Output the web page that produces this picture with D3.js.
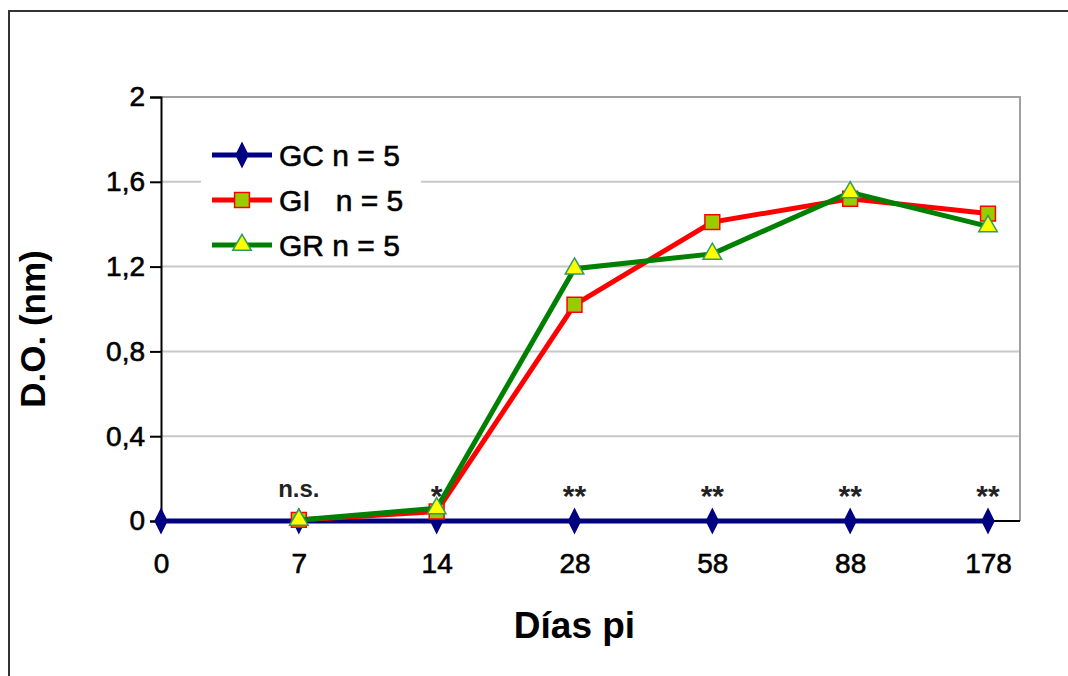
<!DOCTYPE html>
<html>
<head>
<meta charset="utf-8">
<script src="https://cdn.jsdelivr.net/npm/d3@7"></script>
<style>
  body { margin: 0; background: #fff; }
  text { font-family: "Liberation Sans", Arial, sans-serif; }
</style>
</head>
<body>
<div id="chart-area"></div>
<script>
var days = ['0', '7', '14', '28', '58', '88', '178'];
var gcValues = [0, 0, 0, 0, 0, 0, 0];
var giValues = [null, 0.005, 0.045, 1.02, 1.41, 1.52, 1.45];
var grValues = [null, 0.005, 0.06, 1.19, 1.26, 1.55, 1.39];
var signif = ['', 'n.s.', '*', '**', '**', '**', '**'];
var yTicks = [0, 0.4, 0.8, 1.2, 1.6, 2];
var legendLabels = ['GC n = 5', 'GI   n = 5', 'GR n = 5'];

var margin = { left: 161, right: 48, top: 97, bottom: 155 };
var W = 1068, H = 676;
var width = W - margin.left - margin.right;
var height = H - margin.top - margin.bottom;

var svg = d3.select('#chart-area')
    .append('svg')
    .attr('width', W)
    .attr('height', H);

// outer frame
svg.append('rect')
    .attr('x', 9).attr('y', 11)
    .attr('width', W + 10).attr('height', H + 10)
    .attr('fill', 'none')
    .attr('stroke', '#333')
    .attr('stroke-width', 2);

var g = svg.append('g')
    .attr('transform', 'translate(' + margin.left + ', ' + margin.top + ')');

var x = d3.scalePoint()
    .domain(days)
    .range([0, width - 32]);

var y = d3.scaleLinear()
    .domain([0, 2])
    .range([height, 0]);

// grid
g.selectAll('.grid')
    .data(yTicks.slice(1, -1))
    .enter().append('line')
    .attr('x1', 0).attr('x2', width)
    .attr('y1', d => y(d)).attr('y2', d => y(d))
    .attr('stroke', '#c8c8c8')
    .attr('stroke-width', 2);

// plot frame top/right
g.append('path')
    .attr('d', 'M0,' + y(2) + 'H' + width + 'V' + height)
    .attr('fill', 'none')
    .attr('stroke', '#a0a0a0')
    .attr('stroke-width', 2);

var yAxis = g.append('g')
    .call(d3.axisLeft(y).tickValues(yTicks).tickSize(11).tickPadding(5)
        .tickFormat(d => d3.format('.1f')(d).replace('.', ',').replace(',0', '')));
yAxis.select('.domain').attr('stroke-width', 2).attr('stroke', '#000');
yAxis.selectAll('.tick line').attr('stroke-width', 2);
yAxis.selectAll('text').attr('font-size', '28px').attr('fill', '#000')
    .attr('stroke', '#000').attr('stroke-width', 0.6);

var xAxis = g.append('g')
    .attr('transform', 'translate(0,' + height + ')')
    .call(d3.axisBottom(x).tickSize(7).tickPadding(25).tickSizeOuter(0));
xAxis.select('.domain').attr('stroke-width', 2).attr('stroke', '#000')
    .attr('d', 'M0,0H' + width);
xAxis.selectAll('.tick line').attr('stroke-width', 2);
xAxis.selectAll('text').attr('font-size', '28px').attr('fill', '#000')
    .attr('stroke', '#000').attr('stroke-width', 0.6);

// axis titles
g.append('text')
    .attr('transform', 'rotate(-90)')
    .attr('x', -(height / 2) - 20)
    .attr('y', -116)
    .attr('text-anchor', 'middle')
    .attr('font-size', '35px')
    .attr('font-weight', 'bold')
    .text('D.O. (nm)');

g.append('text')
    .attr('x', x('28'))
    .attr('y', height + 117)
    .attr('text-anchor', 'middle')
    .attr('font-size', '37px')
    .attr('font-weight', 'bold')
    .text('Días pi');

// significance marks
g.selectAll('.sig')
    .data(days)
    .enter().append('text')
    .attr('x', d => x(d))
    .attr('y', d => y(0) - (signif[days.indexOf(d)] === 'n.s.' ? 24 : 15))
    .attr('text-anchor', 'middle')
    .attr('font-size', d => signif[days.indexOf(d)] === 'n.s.' ? '24px' : '30px')
    .attr('font-weight', 'bold')
    .attr('fill', '#222')
    .text(d => signif[days.indexOf(d)]);

var series = [
    { name: legendLabels[0], values: gcValues, color: '#000080', symbol: d3.symbolDiamond, size: 120, fill: '#000080', stroke: '#000080' },
    { name: legendLabels[1], values: giValues, color: '#ff0000', symbol: d3.symbolSquare, size: 220, fill: '#99cc00', stroke: '#ff0000' },
    { name: legendLabels[2], values: grValues, color: '#008000', symbol: d3.symbolTriangle, size: 150, fill: '#ffff00', stroke: '#339966' }
];

var line = d3.line()
    .defined(d => d.v !== null)
    .x(d => x(d.day))
    .y(d => y(d.v));

series.forEach(s => {
    var pts = days.map((d, i) => ({ day: d, v: s.values[i] })).filter(p => p.v !== null);
    g.append('path')
        .datum(pts)
        .attr('d', line)
        .attr('fill', 'none')
        .attr('stroke', s.color)
        .attr('stroke-width', 5);
    g.selectAll(null)
        .data(pts)
        .enter().append('path')
        .attr('transform', d => 'translate(' + x(d.day) + ',' + y(d.v) + ')' + (s.symbol === d3.symbolDiamond ? ' scale(1,1.15)' : ''))
        .attr('d', d3.symbol().type(s.symbol).size(s.size))
        .attr('fill', s.fill)
        .attr('stroke', s.stroke)
        .attr('stroke-width', 1.5);
});

// legend
var legend = g.append('g')
    .attr('transform', 'translate(40, 38)');
legend.append('rect')
    .attr('x', 0).attr('y', 0)
    .attr('width', 220).attr('height', 126)
    .attr('fill', '#fff');

series.forEach((s, i) => {
    var row = legend.append('g')
        .attr('transform', 'translate(0,' + (20 + i * 45) + ')');
    row.append('line')
        .attr('x1', 11).attr('x2', 71)
        .attr('stroke', s.color)
        .attr('stroke-width', 5);
    row.append('path')
        .attr('transform', 'translate(41,0)' + (s.symbol === d3.symbolDiamond ? ' scale(1,1.15)' : ''))
        .attr('d', d3.symbol().type(s.symbol).size(s.size))
        .attr('fill', s.fill)
        .attr('stroke', s.stroke)
        .attr('stroke-width', 1.5);
    row.append('text')
        .attr('x', 78)
        .attr('y', 11)
        .attr('font-size', '30px')
        .attr('stroke', '#000')
        .attr('stroke-width', 0.6)
        .attr('xml:space', 'preserve')
        .style('white-space', 'pre')
        .text(s.name);
});
</script>
</body>
</html>
